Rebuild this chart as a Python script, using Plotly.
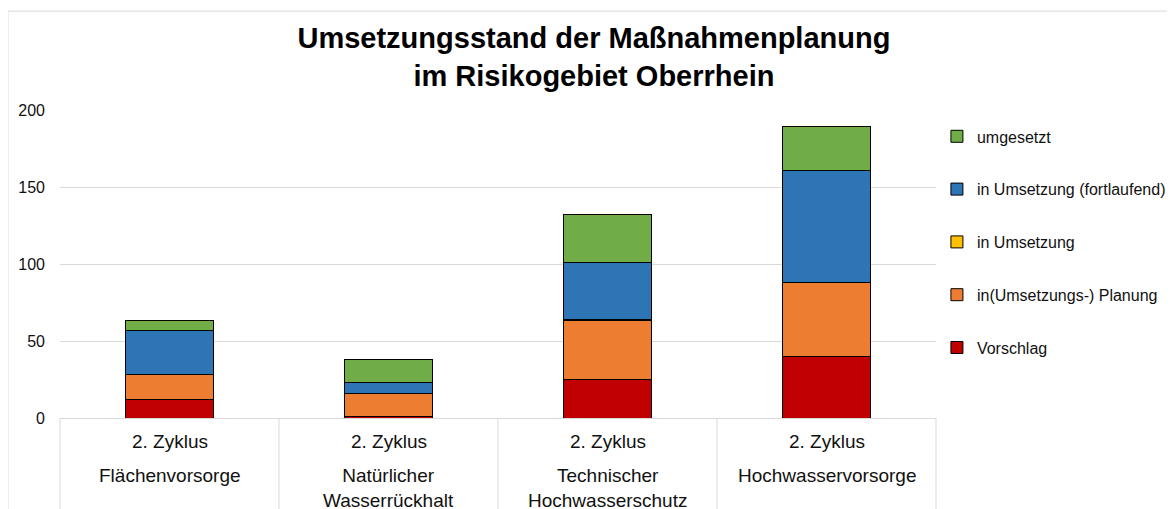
import plotly.graph_objects as go

# Kategorien (Handlungsbereiche) und Zyklus
categories = ["Flächenvorsorge", "Natürlicher<br>Wasserrückhalt",
              "Technischer<br>Hochwasserschutz", "Hochwasservorsorge"]
cycle = ["2. Zyklus", "2. Zyklus", "2. Zyklus", "2. Zyklus"]

# Anzahl Maßnahmen je Status
vorschlag = [12, 1, 25, 40]
planung = [16, 15, 38, 48]
in_umsetzung = [0, 0, 1, 0]
fortlaufend = [29, 7, 37, 73]
umgesetzt = [6, 15, 31, 28]

series = [
    ("Vorschlag", vorschlag, "#C00000"),
    ("in(Umsetzungs-) Planung", planung, "#ED7D31"),
    ("in Umsetzung", in_umsetzung, "#FFC000"),
    ("in Umsetzung (fortlaufend)", fortlaufend, "#2E75B6"),
    ("umgesetzt", umgesetzt, "#70AD47"),
]

FONT = "Liberation Sans, Arial, sans-serif"
GRID = "#d9d9d9"

fig = go.Figure()
for k, (name, vals, color) in enumerate(series):
    fig.add_trace(go.Bar(x=list(range(len(categories))), y=vals, name=name,
                         legendgroup=name, legendrank=len(series) - k, width=0.4,
                         marker=dict(color=color, line=dict(color="black", width=1))))

# Achsenbeschriftung als Annotationen (zwei Ebenen)
annotations = []
for i, (cat, cyc) in enumerate(zip(categories, cycle)):
    annotations.append(dict(x=i, y=-0.075, xref="x", yref="paper", text=cyc,
                            showarrow=False, yanchor="middle",
                            font=dict(size=19, color="#111", family=FONT)))
    annotations.append(dict(x=i, y=-0.145, xref="x", yref="paper", text=cat,
                            showarrow=False, yanchor="top",
                            font=dict(size=19, color="#111", family=FONT)))

shapes = []
n = len(categories)
for i in range(n + 1):
    shapes.append(dict(type="line", xref="paper", yref="paper", x0=i / n, x1=i / n,
                       y0=0, y1=-0.4, line=dict(color=GRID, width=1)))
# Rahmen des Diagrammbereichs
shapes.append(dict(type="rect", xref="paper", yref="paper", x0=-0.0594, x1=1.4,
                   y0=-0.5, y1=1.321, line=dict(color=GRID, width=1), layer="below"))

fig.update_layout(
    template="none",
    width=1167, height=501,
    barmode="stack",
    plot_bgcolor="white", paper_bgcolor="white",
    margin=dict(l=52, r=239, t=102, b=91, autoexpand=False),
    font=dict(family=FONT, color="#111"),
    title=dict(text="Umsetzungsstand der Maßnahmenplanung<br>im Risikogebiet Oberrhein",
               x=0.5021, xref="container", xanchor="center",
               y=0.92, yref="container", yanchor="top",
               font=dict(size=29, family=FONT, color="black", weight="bold")),
    xaxis=dict(range=[-0.5, n - 0.5], showticklabels=False, showgrid=False,
               showline=True, linecolor=GRID, linewidth=1, zeroline=False,
               automargin=False, ticks=""),
    yaxis=dict(range=[0, 200], dtick=50, gridcolor=GRID, gridwidth=1, zeroline=False,
               showline=False, tickfont=dict(size=16, color="#111"), ticks="",
               ticklabelstandoff=14, automargin=False),
    legend=dict(x=0.796, xref="container", xanchor="left", y=0.9695, yanchor="top",
                traceorder="grouped", tracegroupgap=29, borderwidth=0,
                font=dict(size=16, color="#111", family=FONT),
                bgcolor="rgba(0,0,0,0)"),
    annotations=annotations,
    shapes=shapes,
    bargap=0.6,
)

fig.write_html("out.html")
